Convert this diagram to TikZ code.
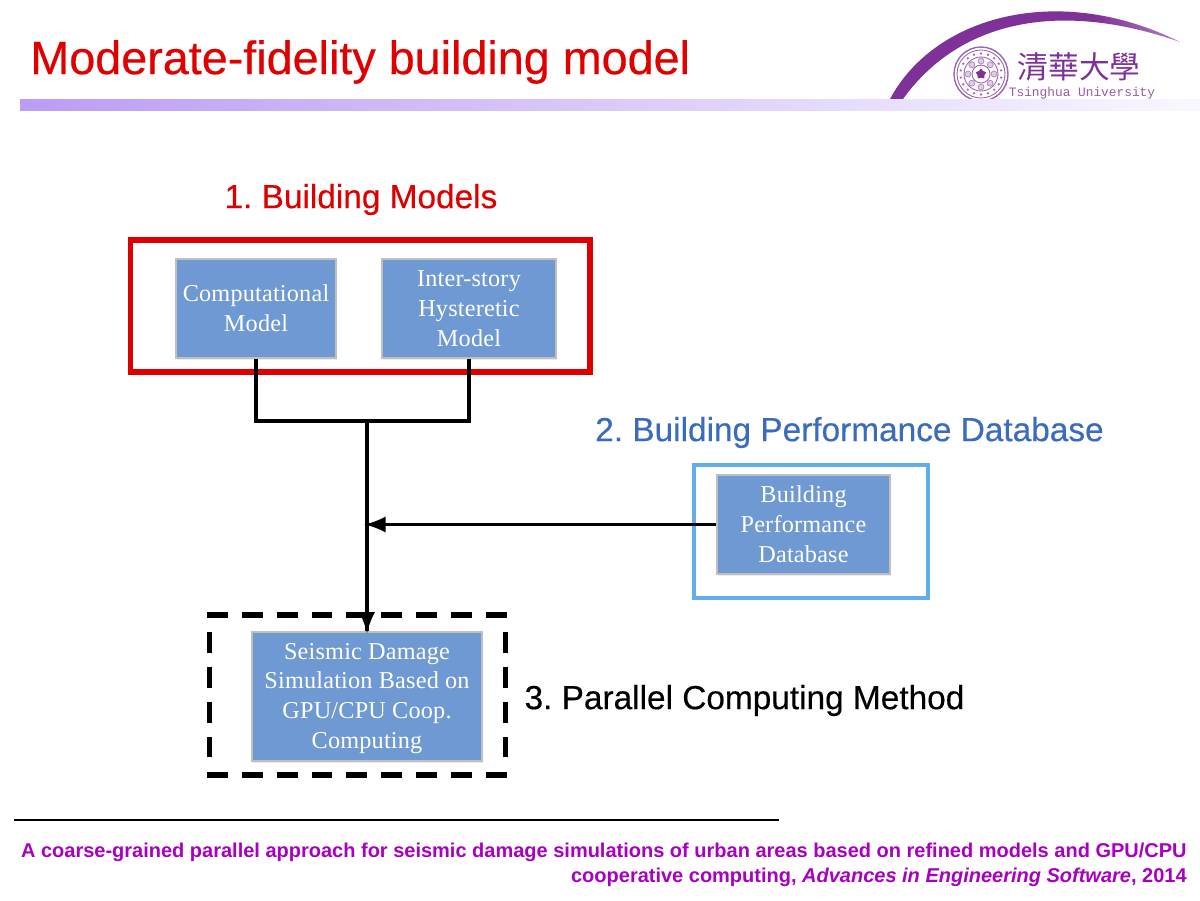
\documentclass[tikz,border=0pt]{standalone}
\usepackage{fontspec}
\setmainfont{Liberation Sans}
\newfontfamily\headfont[FakeBold=0.35]{Liberation Sans}
\newfontfamily\boxfont[LetterSpace=0.8]{Liberation Serif}
\newfontfamily\logofont{Liberation Mono}
\newfontfamily\cjkfont{Noto Sans CJK TC}
\usetikzlibrary{arrows,decorations.markings,shadows,shapes.geometric}
\definecolor{titlered}{HTML}{E00000}
\definecolor{headblue}{HTML}{3A6BBE}
\definecolor{framered}{HTML}{DE0000}
\definecolor{frameblue}{HTML}{62AEE8}
\definecolor{boxblue}{HTML}{6F99D2}
\definecolor{barviolet}{HTML}{BA9DF5}
\definecolor{logopurple}{HTML}{7E3196}
\definecolor{citepurple}{HTML}{A800C0}
\pgfdeclarehorizontalshading{arcfade}{100bp}{color(0bp)=(logopurple); color(60bp)=(logopurple); color(100bp)=(white)}
\tikzset{
    bluebox/.style={draw=black!25,line width=1.5pt,fill=boxblue,text=white,align=center,
        font=\boxfont\fontsize{13.8}{17}\selectfont,inner sep=0pt,
        drop shadow={shadow xshift=0.5pt,shadow yshift=-1pt,opacity=0.15}},
    heading/.style={font=\headfont\frenchspacing\fontsize{19}{22}\selectfont,inner sep=0pt},
    wire/.style={line width=1.75pt,black},
    arrowwire/.style={wire,decoration={markings,mark=at position 1 with
        {\arrow[xshift=1.5pt,scale=1.5,>=latex]{>}}},postaction={decorate}},
    dashline/.style={black,line width=3pt,dash pattern=on 11.9pt off 7.94pt}
}
\begin{document}
\begin{tikzpicture}[x=0.02cm,y=-0.02cm]
\useasboundingbox (0,0) rectangle (1200,900);

\shade[shading=arcfade] (890,99) .. controls (935,15) and (1060,-18) .. (1180,42) .. controls (1060,0) and (960,20) .. (903,99) -- cycle;
\draw[logopurple!75,line width=0.8pt] (981,74) circle (27);
\draw[logopurple!75,line width=0.5pt] (981,74) circle (24);
\draw[logopurple!75,line width=0.5pt] (981,74) circle (17);
\draw[logopurple!75,line width=0.5pt] (981,74) circle (9);
\foreach \a in {0,45,...,315} {
    \draw[logopurple!60,fill=logopurple!25,line width=0.4pt] (981,74) ++(\a:13) circle (3);
}
\foreach \a in {10,30,...,350} {
    \fill[logopurple!70] (981,74) ++(\a:20.5) circle (1.3);
}
\node[star,star points=5,fill=logopurple,inner sep=0pt,minimum size=0.22cm] (logostar) at (981,74) {};
\node[font=\cjkfont\fontsize{17.5}{18}\selectfont,text=logopurple,inner sep=0pt] (logoname) at (1079,67) {清華大學};
\node[font=\logofont\fontsize{7.3}{9}\selectfont,text=logopurple!80,inner sep=0pt] (logotext) at (1082,93) {Tsinghua University};

\shade[left color=barviolet,right color=barviolet!8] (20,99) rectangle (1200,110);

\node[anchor=west,font=\headfont\fontsize{26.6}{30}\selectfont,text=titlered,inner sep=0pt] (title) at (30,62) {Moderate-fidelity building model};

\node[heading,text=framered] (head1) at (361,199.5) {1. Building Models};
\node[heading,text=headblue] (head2) at (849.5,432.5) {2. Building Performance Database};
\node[heading,text=black] (head3) at (744.5,700.5) {3. Parallel Computing Method};

\node[bluebox,minimum width=3.2cm,minimum height=1.98cm] (comp) at (256,308.5) {Computational\\Model};
\node[bluebox,minimum width=3.48cm,minimum height=1.98cm] (hyst) at (469,308.5) {Inter-story\\Hysteretic\\Model};
\node[bluebox,minimum width=3.46cm,minimum height=1.98cm] (data) at (803.5,524.5) {Building\\Performance\\Database};
\node[bluebox,minimum width=4.6cm,minimum height=2.58cm] (seis) at (367,696.5) {\rule{0pt}{11.3pt}Seismic Damage\\Simulation Based on\\GPU/CPU Coop.\\Computing};

\draw[framered,line width=3.4pt] (130.5,240) rectangle (590,372);
\draw[frameblue,line width=2.5pt] (694,465) rectangle (928,598);
\draw[dashline] (207,615) -- (508,615);
\draw[dashline] (207,775) -- (508,775);
\draw[dashline] (209.5,632) -- (209.5,760);
\draw[dashline] (505.5,632) -- (505.5,760);

\coordinate (join) at (367,421);
\coordinate (mid) at (367,524.5);
\draw[wire] (comp.south) |- (join) -| (hyst.south);
\draw[arrowwire] (join) -- (seis.north);
\draw[arrowwire] (data.west) -- (mid);

\draw[black,line width=0.6pt] (14,820) -- (779,820);
\node[anchor=north east,align=right,font=\bfseries\fontsize{11.38}{13.9}\selectfont,text=citepurple,inner sep=0pt] (cite) at (1187,843) {A coarse-grained parallel approach for seismic damage simulations of urban areas based on refined models and GPU/CPU\\cooperative computing, \textit{Advances in Engineering Software}, 2014};
\end{tikzpicture}
\end{document}
